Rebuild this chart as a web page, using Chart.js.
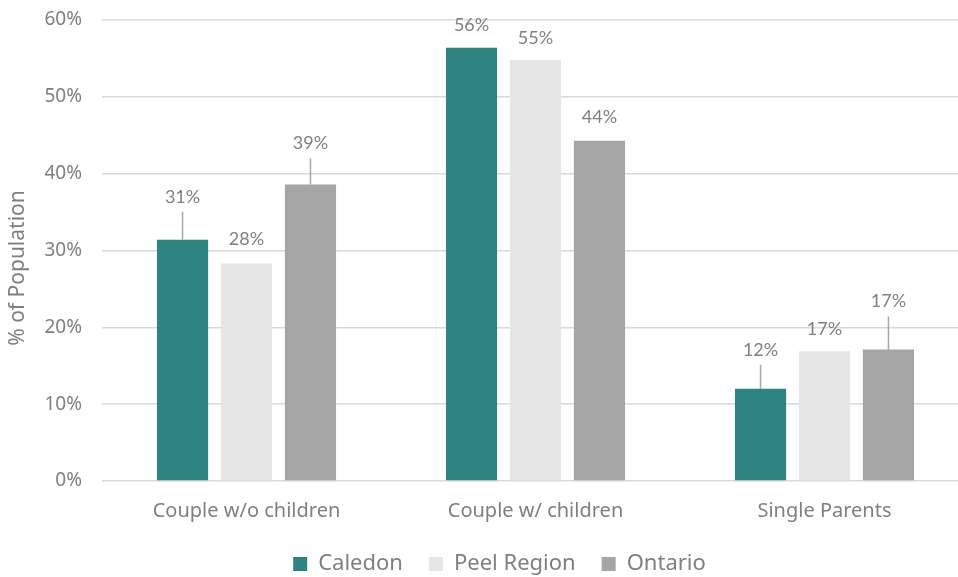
<!DOCTYPE html>
<html>
<head>
<meta charset="utf-8">
<script src="https://cdn.jsdelivr.net/npm/chart.js@4/dist/chart.umd.min.js"></script>
<style>
    html, body { margin: 0; padding: 0; background: #ffffff; overflow: hidden; }
    #wrap { width: 958px; height: 577px; overflow: hidden; }
</style>
</head>
<body>
<div id="wrap">
    <canvas id="familyChart" width="972" height="577"></canvas>
</div>
<script>
const categories = ["Couple w/o children", "Couple w/ children", "Single Parents"];
const seriesNames = ["Caledon", "Peel Region", "Ontario"];
const caledonValues = [31.4, 56.4, 12.0];
const peelValues = [28.3, 54.8, 16.9];
const ontarioValues = [38.6, 44.3, 17.1];
const yTicks = [0, 10, 20, 30, 40, 50, 60];
const yTitle = "% of Population";

const textGrey = "#7f7f7f";
const gridGrey = "#d9d9d9";

// draws the % labels above the bars, with a small leader line when lifted high
const barLabels = {
    id: "barLabels",
    afterDatasetsDraw(chart) {
        const ctx = chart.ctx;
        ctx.save();
        ctx.font = "18px Lato";
        ctx.fillStyle = "#808080";
        ctx.textAlign = "center";
        ctx.textBaseline = "middle";
        chart.data.datasets.forEach((ds, di) => {
            const meta = chart.getDatasetMeta(di);
            meta.data.forEach((bar, i) => {
                const lift = ds.labelLift[i];
                const ty = bar.y - lift;
                if (lift > 30) {
                    ctx.strokeStyle = "#a6a6a6";
                    ctx.lineWidth = 1.5;
                    ctx.beginPath();
                    ctx.moveTo(bar.x, bar.y);
                    ctx.lineTo(bar.x, ty + 15);
                    ctx.stroke();
                }
                ctx.fillText(Math.round(ds.data[i]) + "%", bar.x, ty);
            });
        });
        ctx.restore();
    }
};

// y axis title, placed a bit below the axis middle like the original
const axisTitle = {
    id: "axisTitle",
    afterDraw(chart) {
        const ctx = chart.ctx;
        ctx.save();
        ctx.translate(18, 268);
        ctx.rotate(-Math.PI / 2);
        ctx.font = "21px 'Noto Sans'";
        ctx.fillStyle = textGrey;
        ctx.textAlign = "center";
        ctx.textBaseline = "middle";
        ctx.fillText(yTitle, 0, 0);
        ctx.restore();
    }
};

// nudge the legend to the right, the original is not centred on the canvas
const legendShift = {
    id: "legendShift",
    afterLayout(chart) {
        chart.legend.left += 15;
        chart.legend.right += 15;
    }
};

const ctx = document.getElementById("familyChart");

new Chart(ctx, {
    type: "bar",

    data: {
        labels: categories,

        datasets: [
            {
                label: seriesNames[0],
                data: caledonValues,
                backgroundColor: "#2d8480",
                labelLift: [43, 22, 39],
                barPercentage: 0.8,
                categoryPercentage: 0.664
            },
            {
                label: seriesNames[1],
                data: peelValues,
                backgroundColor: "#e7e6e6",
                labelLift: [24, 22, 22],
                barPercentage: 0.8,
                categoryPercentage: 0.664
            },
            {
                label: seriesNames[2],
                data: ontarioValues,
                backgroundColor: "#a5a5a5",
                labelLift: [41, 23, 48],
                barPercentage: 0.8,
                categoryPercentage: 0.664
            }
        ]
    },

    options: {
        responsive: false,
        animation: false,
        layout: {
            padding: { left: 0, right: 3, top: 20, bottom: 0 }
        },

        plugins: {
            legend: {
                position: "bottom",
                maxHeight: 50,
                labels: {
                    color: textGrey,
                    boxWidth: 14,
                    boxHeight: 14,
                    padding: 26,
                    font: { family: "Noto Sans", size: 22 }
                }
            },
            tooltip: { enabled: false }
        },

        scales: {
            y: {
                min: 0,
                max: 60,
                afterBuildTicks: function(scale) {
                    scale.ticks = yTicks.map(v => ({ value: v }));
                },
                afterFit: function(scale) {
                    scale.width = 102;
                    scale.paddingTop = 0;
                    scale.paddingBottom = 0;
                },
                ticks: {
                    color: textGrey,
                    padding: 20,
                    callback: function(value) {
                        return value + "%";
                    },
                    font: { family: "Noto Sans", size: 19 }
                },
                grid: {
                    color: gridGrey,
                    lineWidth: 1.5,
                    drawTicks: false
                },
                border: { display: false }
            },

            x: {
                afterFit: function(scale) {
                    scale.height = 46;
                },
                ticks: {
                    color: textGrey,
                    padding: 10,
                    font: { family: "Noto Sans", size: 20 }
                },
                grid: { display: false },
                border: { display: false }
            }
        }
    },

    plugins: [barLabels, axisTitle, legendShift]
});
</script>
</body>
</html>
